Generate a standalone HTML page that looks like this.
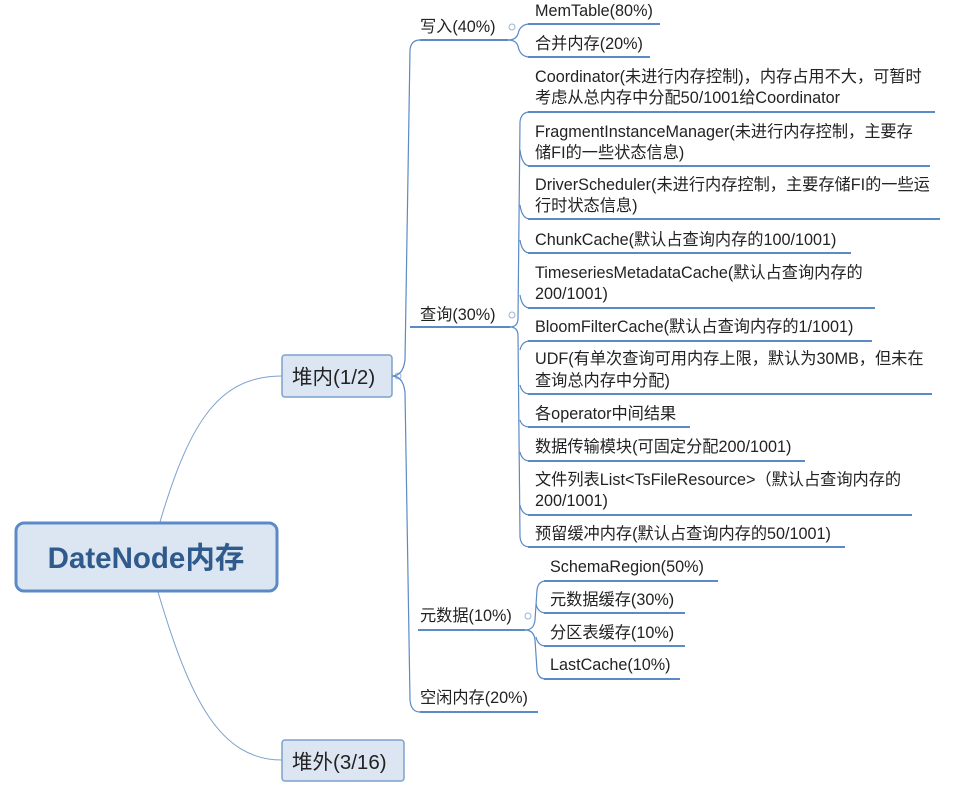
<!DOCTYPE html>
<html><head><meta charset="utf-8"><style>
html,body{margin:0;padding:0;background:#fff;width:975px;height:788px;overflow:hidden}
svg text{font-family:"Liberation Sans","Noto Sans CJK SC",sans-serif;fill:#222;font-size:16.2px}
</style></head><body>
<svg width="975" height="788" viewBox="0 0 975 788" xmlns="http://www.w3.org/2000/svg">
<g fill="none" stroke="#7da0cc" stroke-width="1">
<path d="M160 522 C190 420 220 376 282 376"/>
<path d="M158 592 C190 700 220 760 282 760"/>
</g>
<rect x="16" y="523" width="261" height="68" rx="8" fill="#dce6f2" stroke="#5b8ac6" stroke-width="3"/>
<text x="146" y="568" text-anchor="middle" style="font-size:29.5px;font-weight:bold;fill:#2f5a8c">DateNode内存</text>
<rect x="282" y="355" width="110" height="42" rx="3" fill="#dce6f2" stroke="#7da0cc" stroke-width="1.5"/>
<text x="292" y="384" style="font-size:20.5px">堆内(1/2)</text>
<rect x="282" y="740" width="122" height="41" rx="3" fill="#dce6f2" stroke="#7da0cc" stroke-width="1.5"/>
<text x="292" y="769" style="font-size:20.5px">堆外(3/16)</text>
<circle cx="398" cy="376" r="3" fill="#fff" stroke="#9ab4d6"/>
<g fill="none" stroke="#5b8ac6" stroke-width="1.2">
<path d="M392 376 Q403 376 405 360 L410 50 Q411 40 420 40"/>
<path d="M392 376 Q403 376 405 392 L410 700 Q411 712 420 712"/>
</g>
<g fill="none" stroke="#5b8ac6" stroke-width="2">
<path d="M420 40 L508 40"/><path d="M410 327 L510 327"/><path d="M418 630 L525 630"/><path d="M420 712 L538 712"/>
</g>
<g fill="none" stroke="#5b8ac6" stroke-width="1.2">
<path d="M508 40 Q516 40 518 34 Q520 24 530 24"/>
<path d="M508 40 Q516 40 518 46 Q520 57 530 57"/>
<path d="M510 327 Q518 327 518 318 L520 122 Q521 112 530 112"/>
<path d="M510 327 Q518 327 518 336 L520 537 Q521 547 530 547"/>
<path d="M525 630 Q534 630 535 620 L537 590 Q538 581 546 581"/>
<path d="M525 630 Q534 630 535 640 L537 670 Q538 679 546 679"/>
<path d="M536 604 Q538 613 546 613"/><path d="M536 637 Q538 646 546 646"/>
<path d="M520 150 Q522 166 530 166"/><path d="M520 205 Q522 219 530 219"/><path d="M520 240 Q522 253 530 253"/>
<path d="M520 295 Q522 308 530 308"/><path d="M520 350 Q522 341 530 341"/><path d="M520 385 Q522 394 530 394"/>
<path d="M520 420 Q522 427 530 427"/><path d="M520 452 Q522 461 530 461"/><path d="M520 505 Q522 515 530 515"/>
</g>
<g stroke="#5b8ac6" stroke-width="2">
<line x1="528" y1="24" x2="660" y2="24"/><line x1="528" y1="57" x2="650" y2="57"/>
<line x1="528" y1="112" x2="935" y2="112"/><line x1="528" y1="166" x2="930" y2="166"/>
<line x1="528" y1="219" x2="940" y2="219"/><line x1="528" y1="253" x2="851" y2="253"/>
<line x1="528" y1="308" x2="875" y2="308"/><line x1="528" y1="341" x2="872" y2="341"/>
<line x1="528" y1="394" x2="932" y2="394"/><line x1="528" y1="427" x2="690" y2="427"/>
<line x1="528" y1="461" x2="805" y2="461"/><line x1="528" y1="515" x2="912" y2="515"/>
<line x1="528" y1="547" x2="845" y2="547"/>
<line x1="544" y1="581" x2="718" y2="581"/><line x1="544" y1="613" x2="685" y2="613"/>
<line x1="544" y1="646" x2="685" y2="646"/><line x1="544" y1="679" x2="680" y2="679"/>
</g>
<g fill="#fff" stroke="#9ab4d6"><circle cx="512" cy="27" r="3"/><circle cx="512" cy="315" r="3"/><circle cx="528" cy="616" r="3"/></g>
<text x="420" y="32">写入(40%)</text>
<text x="420" y="320">查询(30%)</text>
<text x="420" y="621">元数据(10%)</text>
<text x="420" y="703">空闲内存(20%)</text>
<text x="535" y="16">MemTable(80%)</text>
<text x="535" y="49">合并内存(20%)</text>
<text x="535" y="82">Coordinator(未进行内存控制)，内存占用不大，可暂时</text>
<text x="535" y="103">考虑从总内存中分配50/1001给Coordinator</text>
<text x="535" y="137">FragmentInstanceManager(未进行内存控制，主要存</text>
<text x="535" y="158">储FI的一些状态信息)</text>
<text x="535" y="190">DriverScheduler(未进行内存控制，主要存储FI的一些运</text>
<text x="535" y="211">行时状态信息)</text>
<text x="535" y="245">ChunkCache(默认占查询内存的100/1001)</text>
<text x="535" y="278">TimeseriesMetadataCache(默认占查询内存的</text>
<text x="535" y="299">200/1001)</text>
<text x="535" y="332">BloomFilterCache(默认占查询内存的1/1001)</text>
<text x="535" y="364">UDF(有单次查询可用内存上限，默认为30MB，但未在</text>
<text x="535" y="386">查询总内存中分配)</text>
<text x="535" y="419">各operator中间结果</text>
<text x="535" y="452">数据传输模块(可固定分配200/1001)</text>
<text x="535" y="485">文件列表List&lt;TsFileResource&gt;（默认占查询内存的</text>
<text x="535" y="506">200/1001)</text>
<text x="535" y="539">预留缓冲内存(默认占查询内存的50/1001)</text>
<text x="550" y="572">SchemaRegion(50%)</text>
<text x="550" y="605">元数据缓存(30%)</text>
<text x="550" y="638">分区表缓存(10%)</text>
<text x="550" y="670">LastCache(10%)</text>
</svg>
</body></html>
